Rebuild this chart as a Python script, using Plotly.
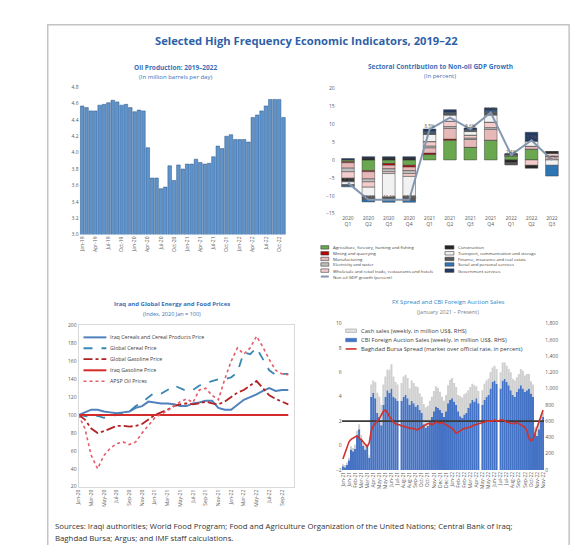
import plotly.graph_objects as go
import pandas as pd

W, H = 580, 545
FONT = "Open Sans"
TXT = "#404040"
BLUE_T = "#3a6fb7"

# ---------------- DATA ----------------
# Panel 1: Oil production (million bpd), monthly Jan-2019 .. Nov-2022
oil_months = pd.date_range("2019-01-01", periods=47, freq="MS").strftime("%b-%y").tolist()
oil_production = [4.57, 4.55, 4.51, 4.51, 4.58, 4.59, 4.61, 4.64, 4.62, 4.58,
                  4.59, 4.55, 4.50, 4.52, 4.51, 4.06, 3.69, 3.69, 3.56, 3.58,
                  3.84, 3.66, 3.85, 3.80, 3.86, 3.86, 3.92, 3.88, 3.86, 3.87,
                  3.95, 4.08, 4.05, 4.20, 4.22, 4.16, 4.16, 4.16, 4.13, 4.43,
                  4.46, 4.51, 4.57, 4.65, 4.65, 4.65, 4.43]

# Panel 2: Sectoral contributions to non-oil GDP growth (percent)
quarters = ["2020<br>Q1", "2020<br>Q2", "2020<br>Q3", "2020<br>Q4",
            "2021<br>Q1", "2021<br>Q2", "2021<br>Q3", "2021<br>Q4",
            "2022<br>Q1", "2022<br>Q2", "2022<br>Q3"]
agriculture = [-0.5, -3.0, -1.0, -1.5, 1.5, 5.5, 3.5, 5.5, 1.2, 3.0, 0.0]
mining = [-0.3, -0.3, -0.5, -0.5, 0.4, 0.3, 0.0, 0.0, 0.0, 0.0, 0.0]
manufacturing = [-1.5, -2.0, -1.0, -1.0, 1.5, 3.0, 2.2, 3.0, 0.0, 0.8, 1.0]
electricity = [-1.0, -0.8, -0.8, -0.8, 0.5, 0.5, 0.4, 0.5, 0.0, 0.0, 0.0]
trade = [-1.8, -1.5, -0.5, -0.8, 1.2, 1.5, 0.8, 1.5, 0.0, -1.5, 0.8]
construction = [-1.0, 0.5, 0.5, 0.5, 0.0, 0.0, 0.0, 0.0, -0.8, -0.8, 0.5]
transport = [-0.8, -2.5, -6.5, -5.5, 2.0, 1.7, 1.0, 2.0, 0.3, 1.5, -1.5]
finance = [-0.3, -1.0, -1.0, -1.2, 0.5, 0.5, 0.4, 0.8, -0.6, 0.0, 0.0]
social = [-0.3, -0.6, -0.5, -0.5, 0.3, 0.3, 0.2, 0.4, 0.0, 0.0, -3.0]
government = [0.4, 0.4, 0.4, 0.4, 0.7, 0.7, 0.4, 0.8, 0.3, 2.4, 0.0]
nonoil_growth = [-6.4, -11.1, -11.1, -11.1, 8.5, 11.8, 8.6, 13.2, 1.4, 5.5, 0.0]

# Panel 3: Prices index (2020 Jan = 100), monthly Jan-2020 .. Oct-2022
price_months = pd.date_range("2020-01-01", periods=34, freq="MS").strftime("%b-%y").tolist()
iraq_cereal = [100, 103, 106, 106, 104, 103, 102, 103, 104, 108, 110, 115, 114, 113, 113, 112, 110,
               110, 113, 114, 116, 116, 108, 106, 106, 112, 117, 120, 123, 127, 130, 127, 128, 128]
global_cereal = [100, 99, 98, 99, 97, 99, 100, 102, 104, 110, 114, 120, 125, 124, 128, 133, 130,
                 127, 128, 133, 135, 138, 140, 140, 142, 148, 170, 168, 175, 163, 150, 145, 146, 146]
global_gasoline = [100, 95, 85, 80, 82, 85, 88, 88, 87, 88, 90, 95, 100, 103, 106, 110, 112,
                   113, 112, 113, 115, 113, 112, 115, 120, 125, 128, 133, 138, 130, 122, 118, 115, 112]
iraq_gasoline = [100, 100, 100, 100, 100, 100, 100, 100, 100, 100, 100, 100, 100, 100, 100, 100, 100,
                 100, 100, 100, 100, 100, 100, 100, 100, 100, 100, 100, 100, 100, 100, 100, 100, 100]
apsp_oil = [100, 85, 55, 40, 55, 63, 68, 70, 67, 70, 80, 88, 97, 101, 105, 110, 115,
            118, 114, 128, 130, 122, 117, 140, 160, 175, 168, 175, 188, 176, 162, 150, 146, 145]

# Panel 4: FX spread and CBI auction sales, weekly from Jan-2021
weeks = pd.date_range("2021-01-03", periods=100, freq="7D").strftime("%b-%y").tolist()
auction_sales = [50, 40, 60, 120, 250, 230, 260, 420, 500, 380, 300, 250, 280, 150,
                 900, 950, 880, 700, 650, 550, 800, 900, 980, 950, 1000, 900, 880, 850,
                 0, 850, 900, 920, 880, 800, 850, 820, 780, 800, 740, 700, 560, 520,
                 540, 600, 650, 720, 780, 760, 740, 700, 650, 720, 820, 860, 880, 840,
                 800, 720, 660, 640, 680, 700, 760, 820, 860, 840, 880, 820, 0, 800,
                 860, 900, 920, 1000, 1080, 1100, 1060, 0, 1000, 1100, 1120, 1080, 1040, 980,
                 920, 900, 960, 1000, 1040, 1000, 960, 980, 1000, 940, 900, 450, 420, 500, 600, 650]
cash_sales = [20, 20, 30, 30, 40, 40, 50, 60, 60, 50, 40, 40, 40, 30,
              150, 150, 200, 250, 250, 250, 250, 250, 250, 280, 300, 250, 200, 200,
              0, 220, 250, 250, 250, 200, 250, 250, 250, 220, 200, 200, 250, 250,
              250, 250, 250, 250, 250, 250, 220, 200, 200, 200, 220, 250, 250, 230,
              220, 200, 250, 250, 250, 250, 220, 200, 200, 200, 150, 150, 0, 180,
              200, 200, 200, 200, 180, 180, 180, 0, 200, 220, 200, 200, 200, 220,
              200, 200, 180, 180, 200, 220, 200, 200, 180, 150, 150, 80, 80, 100, 80, 50]
bursa_spread = [-1.1, -0.6, -0.2, 0.3, 0.5, 0.6, 0.7, 0.8, 0.6, 0.5, 0.3, 0.1, -0.1, 0.2,
                1.2, 1.6, 1.8, 2.0, 2.2, 2.5, 2.8, 2.9, 2.7, 2.4, 2.1, 1.9, 1.8, 1.7,
                1.7, 1.6, 1.6, 1.5, 1.5, 1.4, 1.4, 1.4, 1.3, 1.3, 1.4, 1.5, 1.6, 1.7,
                1.8, 1.8, 1.7, 1.8, 1.9, 1.9, 1.8, 1.9, 1.8, 1.7, 1.6, 1.5, 1.4, 1.2,
                1.0, 1.1, 1.2, 1.3, 1.4, 1.4, 1.5, 1.5, 1.6, 1.7, 1.7, 1.8, 1.8, 1.9,
                1.9, 2.0, 2.0, 2.0, 2.0, 2.1, 2.0, 2.0, 2.1, 2.1, 2.0, 1.9, 1.9, 1.8,
                1.8, 1.8, 1.9, 1.8, 1.7, 1.6, 1.5, 1.2, 0.6, 0.4, 0.5, 1.0, 1.5, 2.0, 2.5, 2.9]
spread_reference = 2.0

# ---------------- HELPERS ----------------
def px_x(v):
    return v / W

def px_y(v):
    return 1 - v / H

def dom_x(a, b):
    return [a / W, b / W]

def dom_y(top, bottom):
    return [1 - bottom / H, 1 - top / H]

fig = go.Figure()
annotations = []
shapes = []

def text(x, y, s, size=6, color=TXT, bold=False, xanchor="left", align="left"):
    annotations.append(dict(x=px_x(x), y=px_y(y), xref="paper", yref="paper",
                            text=f"<b>{s}</b>" if bold else s, showarrow=False,
                            xanchor=xanchor, yanchor="middle", align=align,
                            font=dict(family=FONT, size=size, color=color)))

def legend_line(x, y, length, color, dash, width, label, size):
    shapes.append(dict(type="line", xref="paper", yref="paper",
                       x0=px_x(x), x1=px_x(x + length), y0=px_y(y), y1=px_y(y),
                       line=dict(color=color, width=width, dash=dash)))
    text(x + length + 2, y, label, size=size)

def legend_box(x, y, w, h, color, outline, label, size):
    shapes.append(dict(type="rect", xref="paper", yref="paper",
                       x0=px_x(x), x1=px_x(x + w), y0=px_y(y + h / 2), y1=px_y(y - h / 2),
                       fillcolor=color, line=dict(color=outline, width=0.6)))
    text(x + w + 2, y, label, size=size)

# ---------------- PANEL 1 ----------------
oil_idx = list(range(len(oil_production)))
fig.add_trace(go.Bar(x=oil_idx, y=oil_production, width=0.82,
                     marker=dict(color="#5f93cc", line=dict(color="#2a5584", width=0.5)),
                     xaxis="x", yaxis="y", showlegend=False))
text(166, 57, "Oil Production: 2019–2022", size=6.5, color=BLUE_T, bold=True, xanchor="center")
text(166, 67, "(In million barrels per day)", size=6, color=BLUE_T, xanchor="center")

# ---------------- PANEL 2 ----------------
q_idx = list(range(len(quarters)))
sectors = [
    ("Agriculture, forestry, hunting and fishing", agriculture, "#6aa84f"),
    ("Mining and quarrying", mining, "#c00000"),
    ("Manufacturing", manufacturing, "#e6b8b7"),
    ("Electricity and water", electricity, "#bfbfbf"),
    ("Wholesale and retail trade, restaurants and hotels", trade, "#f4cccc"),
    ("Construction", construction, "#262626"),
    ("Transport, communication and storage", transport, "#f2f2f2"),
    ("Finance, insurance and real estate", finance, "#595959"),
    ("Social and personal services", social, "#2e75b6"),
    ("Government services", government, "#1f3864"),
]
for name, vals, col in sectors:
    fig.add_trace(go.Bar(x=q_idx, y=vals, name=name, width=0.62,
                         marker=dict(color=col, line=dict(color="#404040", width=0.5)),
                         xaxis="x2", yaxis="y2", showlegend=False))
fig.add_trace(go.Scatter(x=q_idx, y=nonoil_growth, mode="lines+text",
                         text=[f"{v:.1f}%" for v in nonoil_growth], textposition="top center",
                         textfont=dict(family=FONT, size=4.5, color="#595959"),
                         line=dict(color="#8497b0", width=2), xaxis="x2", yaxis="y2",
                         showlegend=False))
text(432, 56, "Sectoral Contribution to Non-oil GDP Growth", size=6.5, color=BLUE_T, bold=True, xanchor="center")
text(432, 66, "(In percent)", size=6, color=BLUE_T, xanchor="center")

leg_rows = [239, 245, 250.7, 256.3, 262.5, 268.5]
left_items = sectors[:5]
right_items = sectors[5:]
for i, (name, _, col) in enumerate(left_items):
    legend_box(312, leg_rows[i], 8, 3.5, col, "#404040", name, 4.3)
legend_line(312, leg_rows[5], 8, "#8497b0", "solid", 2, "Non-oil GDP growth (percent)", 4.3)
for i, (name, _, col) in enumerate(right_items):
    legend_box(437, leg_rows[i], 9, 3.5, col, "#404040", name, 4.3)

# ---------------- PANEL 3 ----------------
m_idx = list(range(len(price_months)))
price_series = [
    ("Iraq Cereals and Cereal Products Price", iraq_cereal, "#4f81bd", "solid", 2),
    ("Global Cereal Price", global_cereal, "#3a87b5", "dash", 1.8),
    ("Global Gasoline Price", global_gasoline, "#b22222", "dashdot", 1.8),
    ("Iraq Gasoline Price", iraq_gasoline, "#d42a2a", "solid", 2),
    ("APSP Oil Prices", apsp_oil, "#e35d6a", "dot", 1.6),
]
for name, vals, col, dash, wd in price_series:
    fig.add_trace(go.Scatter(x=m_idx, y=vals, mode="lines", name=name,
                             line=dict(color=col, dash=dash, width=wd),
                             xaxis="x3", yaxis="y3", showlegend=False))
text(162, 296, "Iraq and Global Energy and Food Prices", size=6, color=BLUE_T, bold=True, xanchor="center")
text(162, 306, "(Index, 2020 Jan = 100)", size=5.5, color=BLUE_T, xanchor="center")
p3_rows = [330, 341, 352, 363.3, 374.3]
for i, (name, _, col, dash, wd) in enumerate(price_series):
    legend_line(73, p3_rows[i], 23, col, dash, wd, name, 5.3)

# ---------------- PANEL 4 ----------------
w_idx = list(range(len(weeks)))
fig.add_trace(go.Bar(x=w_idx, y=auction_sales, width=1.0, name="CBI auction",
                     marker=dict(color="#4472c4", line=dict(width=0)),
                     xaxis="x4", yaxis="y4", showlegend=False))
fig.add_trace(go.Bar(x=w_idx, y=cash_sales, width=1.0, name="Cash sales",
                     marker=dict(color="#d0d0d0", line=dict(width=0)),
                     xaxis="x4", yaxis="y4", showlegend=False))
fig.add_trace(go.Scatter(x=[w_idx[0] - 0.5, w_idx[-1] + 0.5], y=[spread_reference, spread_reference],
                         mode="lines", line=dict(color="#3a3a3a", width=1.6),
                         xaxis="x4", yaxis="y5", showlegend=False))
fig.add_trace(go.Scatter(x=w_idx, y=bursa_spread, mode="lines", name="Spread",
                         line=dict(color="#d0312d", width=1.6),
                         xaxis="x4", yaxis="y5", showlegend=False))
text(440, 294, "FX Spread and CBI Foreign Auction Sales", size=6, color="#2e86c8", xanchor="center")
text(440, 304, "(January 2021 – Present)", size=5.5, color="#808080", xanchor="center")
legend_box(337, 323.3, 11, 3.5, "#e0e0e0", "#a0a0a0", "Cash sales (weekly, in million US$, RHS)", 5.8)
legend_box(337, 332.7, 11, 3.5, "#4472c4", "#4472c4", "CBI Foreign Auction Sales (weekly, in million US$, RHS)", 5.8)
legend_line(337, 341.7, 11, "#d0312d", "solid", 1.6, "Baghdad Bursa Spread (market over official rate, in percent)", 5.8)

# ---------------- GLOBAL TEXT / FRAME ----------------
text(298, 30, "Selected High Frequency Economic Indicators, 2019–22", size=11.2, color="#2f5fa7",
     bold=True, xanchor="center")
text(42, 521, "Sources: Iraqi authorities; World Food Program; Food and Agriculture Organization of the United Nations; Central Bank of Iraq;",
     size=7.8, color="#333333")
text(42, 533, "Baghdad Bursa; Argus; and IMF staff calculations.", size=7.8, color="#333333")
shapes.append(dict(type="rect", xref="paper", yref="paper", x0=px_x(37), x1=px_x(562),
                   y0=px_y(560), y1=px_y(14), line=dict(color="#c4c4c4", width=1.5),
                   fillcolor="rgba(0,0,0,0)", layer="below"))

tickf = dict(family=FONT, size=5, color="#595959")
axis_common = dict(showgrid=False, zeroline=False, ticks="", tickfont=tickf)

fig.update_layout(
    width=W, height=H, margin=dict(l=0, r=0, t=0, b=0),
    paper_bgcolor="white", plot_bgcolor="rgba(0,0,0,0)",
    barmode="relative", showlegend=False,
    font=dict(family=FONT, color=TXT),
    annotations=annotations, shapes=shapes,
    xaxis=dict(domain=dom_x(69, 277), anchor="y", range=[-0.6, 46.6],
               tickmode="array", tickvals=oil_idx[::3], ticktext=oil_months[::3],
               tickangle=-90, showline=False, **axis_common),
    yaxis=dict(domain=dom_y(77, 226), anchor="x", range=[3.0, 4.8], dtick=0.2,
               tickformat=".1f", showline=False, **axis_common),
    xaxis2=dict(domain=dom_x(327, 557), anchor="y2", range=[-0.6, 10.6],
                tickmode="array", tickvals=q_idx, ticktext=quarters, tickangle=0,
                showline=False, **axis_common),
    yaxis2=dict(domain=dom_y(78, 205), anchor="x2", range=[-15, 20], dtick=5,
                showline=False, **axis_common),
    xaxis3=dict(domain=dom_x(68, 285), anchor="y3", range=[0, 33.9],
                tickmode="array", tickvals=m_idx[::2], ticktext=price_months[::2],
                tickangle=-90, showline=True, mirror=True, linecolor="#d9d9d9", linewidth=1,
                **axis_common),
    yaxis3=dict(domain=dom_y(318, 481), anchor="x3", range=[20, 200], dtick=20,
                showline=True, mirror=True, linecolor="#d9d9d9", linewidth=1, **axis_common),
    xaxis4=dict(domain=dom_x(333, 537), anchor="y4", range=[-0.6, 99.6],
                tickmode="array", tickvals=w_idx[::3], ticktext=weeks[::3],
                tickangle=-90, showline=False, **axis_common),
    yaxis4=dict(domain=dom_y(316, 464), anchor="x4", side="right", range=[0, 1800], dtick=200,
                tickformat=",", showline=False, **axis_common),
    yaxis5=dict(overlaying="y4", anchor="free", position=333 / W, side="left",
                range=[-2, 10], tickmode="linear", tick0=-2, dtick=2,
                showline=False, **axis_common),
)

fig.write_html("out.html")
